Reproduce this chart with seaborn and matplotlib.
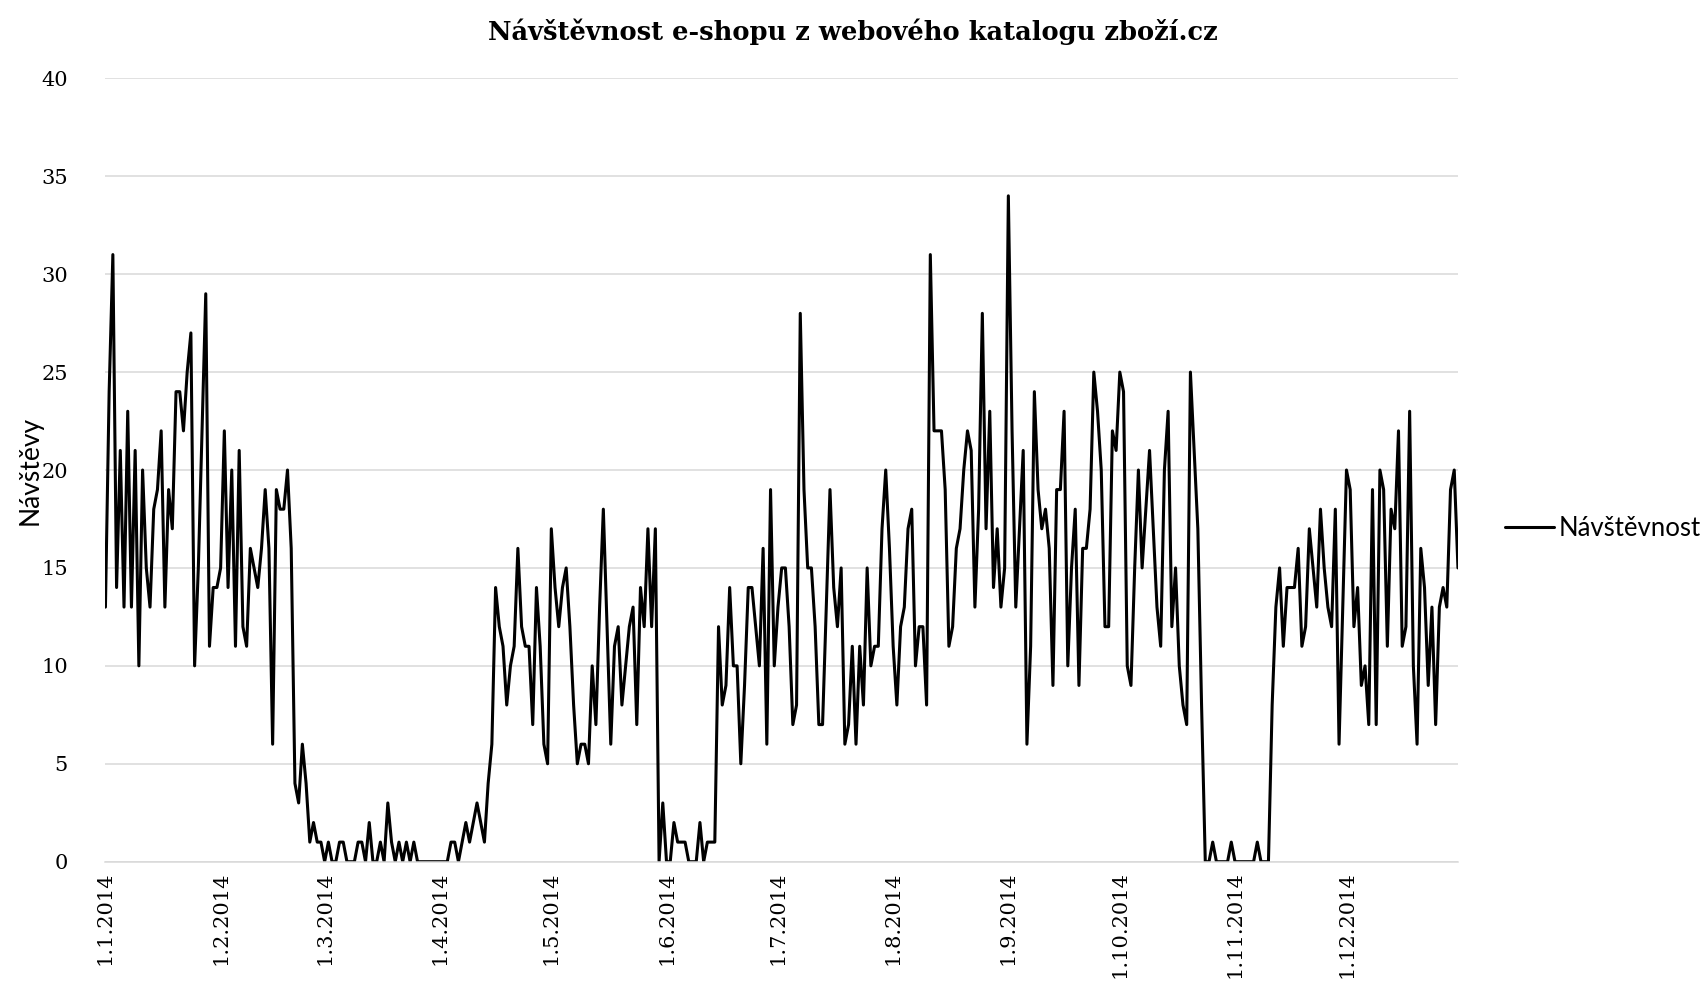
import matplotlib
matplotlib.use("Agg")
import matplotlib.pyplot as plt
import pandas as pd
import seaborn as sns

# Daily visits from the zbozi.cz catalogue, 2014 (one list per month)
jan = [13, 24, 31, 14, 21, 13, 23, 13, 21, 10, 20, 15, 13, 18, 19, 22, 13, 19, 17, 24,
       24, 22, 25, 27, 10, 15, 22, 29, 11, 14, 14]
feb = [15, 22, 14, 20, 11, 21, 12, 11, 16, 15, 14, 16, 19, 16, 6, 19, 18, 18, 20, 16,
       4, 3, 6, 4, 1, 2, 1, 1]
mar = [0, 1, 0, 0, 1, 1, 0, 0, 0, 1, 1, 0, 2, 0, 0, 1, 0, 3, 1, 0,
       1, 0, 1, 0, 1, 0, 0, 0, 0, 0, 0]
apr = [0, 0, 0, 1, 1, 0, 1, 2, 1, 2, 3, 2, 1, 4, 6, 14, 12, 11, 8, 10,
       11, 16, 12, 11, 11, 7, 14, 11, 6, 5]
may = [17, 14, 12, 14, 15, 12, 8, 5, 6, 6, 5, 10, 7, 13, 18, 12, 6, 11, 12, 8,
       10, 12, 13, 7, 14, 12, 17, 12, 17, 0, 3]
jun = [0, 0, 2, 1, 1, 1, 0, 0, 0, 2, 0, 1, 1, 1, 12, 8, 9, 14, 10, 10,
       5, 9, 14, 14, 12, 10, 16, 6, 19, 10]
jul = [13, 15, 15, 12, 7, 8, 28, 19, 15, 15, 12, 7, 7, 13, 19, 14, 12, 15, 6, 7,
       11, 6, 11, 8, 15, 10, 11, 11, 17, 20, 16]
aug = [11, 8, 12, 13, 17, 18, 10, 12, 12, 8, 31, 22, 22, 22, 19, 11, 12, 16, 17, 20,
       22, 21, 13, 18, 28, 17, 23, 14, 17, 13, 15]
sep = [34, 22, 13, 17, 21, 6, 11, 24, 19, 17, 18, 16, 9, 19, 19, 23, 10, 15, 18, 9,
       16, 16, 18, 25, 23, 20, 12, 12, 22, 21]
oct_ = [25, 24, 10, 9, 15, 20, 15, 18, 21, 17, 13, 11, 20, 23, 12, 15, 10, 8, 7, 25,
        21, 17, 8, 0, 0, 1, 0, 0, 0, 0, 1]
nov = [0, 0, 0, 0, 0, 0, 1, 0, 0, 0, 8, 13, 15, 11, 14, 14, 14, 16, 11, 12,
       17, 15, 13, 18, 15, 13, 12, 18, 6, 13]
dec = [20, 19, 12, 14, 9, 10, 7, 19, 7, 20, 19, 11, 18, 17, 22, 11, 12, 23, 10, 6,
       16, 14, 9, 13, 7, 13, 14, 13, 19, 20, 15]

month_labels = ["1.1.2014", "1.2.2014", "1.3.2014", "1.4.2014", "1.5.2014", "1.6.2014",
                "1.7.2014", "1.8.2014", "1.9.2014", "1.10.2014", "1.11.2014", "1.12.2014"]
y_ticks = [0, 5, 10, 15, 20, 25, 30, 35, 40]

title = "Návštěvnost e-shopu z webového katalogu zboží.cz"
y_title = "Návštěvy"
series_name = "Návštěvnost"

visits = jan + feb + mar + apr + may + jun + jul + aug + sep + oct_ + nov + dec
dates = pd.date_range("2014-01-01", "2014-12-31", freq="D")
df = pd.DataFrame({"Datum": dates, series_name: visits})

sns.set_style("white")
plt.rcParams["text.color"] = "black"
plt.rcParams["axes.labelcolor"] = "black"
serif = ["DejaVu Serif"]
sans = ["Lato", "DejaVu Sans"]

fig = plt.figure(figsize=(17.06, 9.94), dpi=100)
ax = fig.add_axes([0.0618, 0.1331, 0.7928, 0.7881])

sns.lineplot(data=df, x="Datum", y=series_name, color="black", linewidth=2.2,
             ax=ax, legend=False)

ax.set_xlim(dates[0], dates[-1])
ax.set_ylim(0, 40)
ax.set_yticks(y_ticks)
ax.set_yticklabels([str(v) for v in y_ticks], fontfamily=serif, fontsize=15)

month_starts = pd.date_range("2014-01-01", periods=12, freq="MS")
ax.set_xticks(month_starts)
ax.set_xticklabels(month_labels, rotation=90, fontfamily=serif, fontsize=15)

ax.grid(axis="y", color="#d9d9d9", linewidth=1.1)
ax.grid(axis="x", visible=False)
ax.set_axisbelow(True)
for side in ["top", "right", "left"]:
    ax.spines[side].set_visible(False)
ax.spines["bottom"].set_color("#d9d9d9")
ax.spines["bottom"].set_linewidth(1.1)
ax.tick_params(axis="y", length=0, pad=27, labelcolor="black")
ax.tick_params(axis="x", length=0, pad=7, labelcolor="black")

ax.set_xlabel("")
ax.set_ylabel(y_title, fontfamily=sans, fontsize=19, color="black")
ax.yaxis.label.set_va("center")
ax.yaxis.set_label_coords(-0.0555, 0.5)

fig.suptitle(title, x=0.5, y=0.968, va="center", fontfamily=serif,
             fontweight="bold", fontsize=18.5, color="black")

handle = ax.get_lines()[0]
fig.legend([handle], [series_name], loc="center left",
           bbox_to_anchor=(0.882, 0.468), frameon=False, borderpad=0,
           borderaxespad=0, prop={"family": sans, "size": 18.5},
           handlelength=1.9, handletextpad=0.2, labelcolor="black")

fig.savefig("out.png", dpi=100)
